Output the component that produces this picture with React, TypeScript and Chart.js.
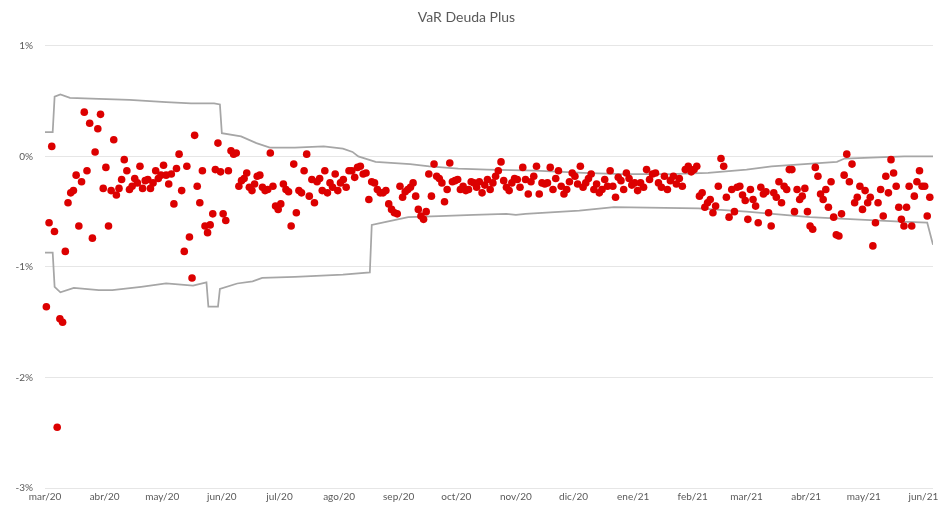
import React, { useEffect, useRef } from "react";
import { Chart, registerables } from "chart.js";

Chart.register(...registerables);

const TITLE = "VaR Deuda Plus";

const monthStarts = [
  "2020-03-01", "2020-04-01", "2020-05-01", "2020-06-01", "2020-07-01", "2020-08-01",
  "2020-09-01", "2020-10-01", "2020-11-01", "2020-12-01", "2021-01-01", "2021-02-01",
  "2021-03-01", "2021-04-01", "2021-05-01", "2021-06-01",
];
const monthLabels = [
  "mar/20", "abr/20", "may/20", "jun/20", "jul/20", "ago/20", "sep/20", "oct/20",
  "nov/20", "dic/20", "ene/21", "feb/21", "mar/21", "abr/21", "may/21", "jun/21",
];
const axisStart = "2020-03-01";
const axisEnd = "2021-06-06";
const lastMonthDays = 4;

const yTicks = [1, 0, -1, -2, -3];

// Daily P&L (%) per month
const mar20 = [-1.36, -0.6, 0.09, -0.68, -2.45, -1.47, -1.5, -0.86, -0.42, -0.33, -0.31, -0.17, -0.63, -0.23, 0.4, -0.13, 0.3, -0.74, 0.04, 0.25, 0.38, -0.29];
const apr20 = [-0.1, -0.63, -0.31, 0.15, -0.35, -0.29, -0.21, -0.03, -0.13, -0.3, -0.27, -0.2, -0.24, -0.09, -0.29, -0.22, -0.21, -0.29, -0.24, -0.13, -0.2, -0.17];
const may20 = [-0.08, -0.17, -0.25, -0.16, -0.43, -0.11, 0.02, -0.31, -0.86, -0.09, -0.73, -1.1, 0.19, -0.27, -0.42, -0.13, -0.63, -0.69, -0.62, -0.52, -0.12, 0.12, -0.14];
const jun20 = [-0.52, -0.58, -0.13, 0.05, 0.02, 0.03, -0.27, -0.22, -0.2, -0.15, -0.28, -0.31, -0.25, -0.18, -0.17, -0.28, -0.31, -0.3, 0.03, -0.27, -0.45, -0.48];
const jul20 = [-0.43, -0.25, -0.3, -0.32, -0.63, -0.07, -0.51, -0.31, -0.33, -0.13, 0.02, -0.36, -0.21, -0.42, -0.23, -0.2, -0.31, -0.13, -0.33, -0.24, -0.28, -0.16, -0.31];
const aug20 = [-0.24, -0.21, -0.28, -0.13, -0.13, -0.19, -0.1, -0.09, -0.16, -0.15, -0.39, -0.23, -0.24, -0.3, -0.33, -0.33, -0.31, -0.43, -0.48, -0.51, -0.52];
const sep20 = [-0.27, -0.37, -0.32, -0.3, -0.28, -0.24, -0.36, -0.48, -0.54, -0.57, -0.5, -0.16, -0.36, -0.07, -0.18, -0.2, -0.24, -0.41, -0.3, -0.06, -0.23, -0.22];
const oct20 = [-0.21, -0.3, -0.27, -0.31, -0.3, -0.23, -0.24, -0.28, -0.23, -0.33, -0.26, -0.21, -0.3, -0.24, -0.18, -0.13, -0.05, -0.22, -0.28, -0.31, -0.24, -0.2];
const nov20 = [-0.21, -0.28, -0.1, -0.21, -0.34, -0.23, -0.18, -0.09, -0.34, -0.24, -0.25, -0.24, -0.1, -0.3, -0.2, -0.13, -0.27, -0.34, -0.3, -0.23, -0.15];
const dec20 = [-0.18, -0.25, -0.09, -0.28, -0.24, -0.2, -0.16, -0.3, -0.25, -0.33, -0.3, -0.21, -0.27, -0.13, -0.27, -0.37, -0.19, -0.22, -0.3, -0.15, -0.2, -0.26];
const jan21 = [-0.24, -0.31, -0.24, -0.28, -0.12, -0.21, -0.16, -0.15, -0.24, -0.28, -0.18, -0.3, -0.22, -0.18, -0.25, -0.2, -0.27, -0.12, -0.09, -0.14];
const feb21 = [-0.12, -0.09, -0.36, -0.33, -0.46, -0.42, -0.39, -0.51, -0.45, -0.27, -0.02, -0.09, -0.37, -0.55, -0.3, -0.5, -0.28, -0.27, -0.35, -0.4];
const mar21 = [-0.57, -0.3, -0.39, -0.45, -0.6, -0.28, -0.34, -0.32, -0.51, -0.63, -0.33, -0.37, -0.23, -0.42, -0.27, -0.3, -0.12, -0.12, -0.5, -0.3, -0.39, -0.36, -0.29];
const apr21 = [-0.5, -0.63, -0.66, -0.1, -0.18, -0.34, -0.39, -0.3, -0.46, -0.23, -0.55, -0.71, -0.72, -0.52, -0.17, 0.02, -0.23, -0.07, -0.42, -0.37, -0.27, -0.48];
const may21 = [-0.31, -0.42, -0.37, -0.81, -0.6, -0.42, -0.3, -0.54, -0.18, -0.33, -0.03, -0.15, -0.27, -0.46, -0.57, -0.63, -0.46, -0.27, -0.63, -0.36, -0.23, -0.13, -0.27];
const jun21 = [-0.27, -0.54, -0.37];
const monthlyReturns = [mar20, apr20, may20, jun20, jul20, aug20, sep20, oct20, nov20, dec20, jan21, feb21, mar21, apr21, may21, jun21];

// VaR upper band
const upperDates = [
  "2020-03-01", "2020-03-05", "2020-03-06", "2020-03-09", "2020-03-14", "2020-03-29", "2020-04-14",
  "2020-05-03", "2020-05-16", "2020-05-28", "2020-05-31", "2020-06-01", "2020-06-11", "2020-06-19",
  "2020-06-26", "2020-07-09", "2020-07-24", "2020-08-03", "2020-08-08", "2020-08-11", "2020-08-20",
  "2020-09-07", "2020-09-17", "2020-10-02", "2020-10-17", "2020-11-11", "2020-12-06", "2020-12-26",
  "2021-01-20", "2021-02-09", "2021-03-01", "2021-03-14", "2021-03-31", "2021-04-17", "2021-04-21",
  "2021-05-22", "2021-06-06",
];
const upperValues = [
  0.22, 0.22, 0.54, 0.56, 0.53, 0.52, 0.51,
  0.49, 0.48, 0.48, 0.47, 0.21, 0.18, 0.12,
  0.08, 0.08, 0.09, 0.07, 0.04, 0.0, -0.05,
  -0.07, -0.09, -0.11, -0.12, -0.13, -0.15, -0.16,
  -0.16, -0.15, -0.12, -0.09, -0.07, -0.05, -0.02,
  0.0, 0.0,
];

// VaR lower band
const lowerDates = [
  "2020-03-01", "2020-03-05", "2020-03-06", "2020-03-09", "2020-03-16", "2020-03-29", "2020-04-05",
  "2020-04-20", "2020-05-03", "2020-05-17", "2020-05-24", "2020-05-25", "2020-05-30", "2020-05-31",
  "2020-06-09", "2020-06-17", "2020-06-22", "2020-07-09", "2020-08-03", "2020-08-17", "2020-08-18",
  "2020-08-26", "2020-09-06", "2020-09-22", "2020-10-10", "2020-10-27", "2020-11-01", "2020-11-06",
  "2020-12-04", "2020-12-22", "2021-02-04", "2021-03-01", "2021-04-03", "2021-05-20", "2021-06-03",
  "2021-06-06",
];
const lowerValues = [
  -0.87, -0.87, -1.18, -1.23, -1.19, -1.21, -1.21,
  -1.18, -1.15, -1.17, -1.14, -1.36, -1.36, -1.2,
  -1.15, -1.13, -1.1, -1.09, -1.07, -1.05, -0.62,
  -0.59, -0.55, -0.54, -0.53, -0.52, -0.53, -0.52,
  -0.49, -0.46, -0.47, -0.5, -0.55, -0.59, -0.6,
  -0.8,
];

const DAY = 86400000;
const toDay = (s: string) => {
  const [y, m, d] = s.split("-").map(Number);
  const [y0, m0, d0] = axisStart.split("-").map(Number);
  return Math.round((Date.UTC(y, m - 1, d) - Date.UTC(y0, m0 - 1, d0)) / DAY);
};

export default function App() {
  const ref = useRef<HTMLCanvasElement | null>(null);

  useEffect(() => {
    document.body.style.margin = "0";
    if (!ref.current) return;

    const startDays = monthStarts.map(toDay);
    const scatter: { x: number; y: number }[] = [];
    monthlyReturns.forEach((vals, mi) => {
      const start = startDays[mi];
      const len = mi + 1 < startDays.length ? startDays[mi + 1] - start : lastMonthDays;
      vals.forEach((v, i) => {
        scatter.push({ x: start + ((i + 0.5) * len) / vals.length, y: v });
      });
    });
    const upper = upperDates.map((d, i) => ({ x: toDay(d), y: upperValues[i] }));
    const lower = lowerDates.map((d, i) => ({ x: toDay(d), y: lowerValues[i] }));

    const font = "Lato, 'Open Sans', sans-serif";
    const textColor = "#595959";

    const chart = new Chart(ref.current, {
      type: "scatter",
      data: {
        datasets: [
          {
            type: "scatter",
            label: "P&L",
            data: scatter,
            backgroundColor: "#dc0000",
            borderColor: "#dc0000",
            pointRadius: 3.8,
            pointBorderWidth: 0,
            clip: false,
            order: 0,
          },
          {
            type: "line",
            label: "VaR sup",
            data: upper,
            borderColor: "#a6a6a6",
            borderWidth: 1.75,
            pointRadius: 0,
            fill: false,
            tension: 0,
            order: 1,
          },
          {
            type: "line",
            label: "VaR inf",
            data: lower,
            borderColor: "#a6a6a6",
            borderWidth: 1.75,
            pointRadius: 0,
            fill: false,
            tension: 0,
            order: 1,
          },
        ],
      },
      options: {
        animation: false,
        responsive: true,
        maintainAspectRatio: false,
        layout: { padding: { left: 0, right: 10, top: 0, bottom: 0 } },
        plugins: {
          legend: { display: false },
          tooltip: { enabled: false },
          title: {
            display: true,
            text: TITLE,
            color: textColor,
            font: { family: font, size: 14, weight: "normal" },
            padding: { top: 9, bottom: 20 },
          },
        },
        scales: {
          x: {
            type: "linear",
            min: toDay(axisStart),
            max: toDay(axisEnd),
            grid: { display: false, drawTicks: false },
            border: { display: false },
            afterBuildTicks: (scale: any) => {
              scale.ticks = startDays.map((v) => ({ value: v }));
            },
            afterFit: (scale: any) => {
              scale.height = 20;
            },
            ticks: {
              autoSkip: false,
              maxRotation: 0,
              minRotation: 0,
              padding: 3,
              color: textColor,
              font: { family: font, size: 10 },
              callback: (_v: any, i: number) => monthLabels[i],
            },
          },
          y: {
            min: yTicks[yTicks.length - 1],
            max: yTicks[0],
            grid: { color: "#e6e6e6", lineWidth: 1, drawTicks: false },
            border: { display: false },
            afterBuildTicks: (scale: any) => {
              scale.ticks = yTicks.map((v) => ({ value: v }));
            },
            afterFit: (scale: any) => {
              scale.width = 45;
            },
            ticks: {
              padding: 12,
              color: textColor,
              font: { family: font, size: 10 },
              callback: (v: any) => `${v}%`,
            },
          },
        },
      },
    } as any);

    return () => chart.destroy();
  }, []);

  return (
    <div style={{ position: "absolute", left: 0, top: 0, width: 943, height: 508 }}>
      <canvas ref={ref} />
    </div>
  );
}
